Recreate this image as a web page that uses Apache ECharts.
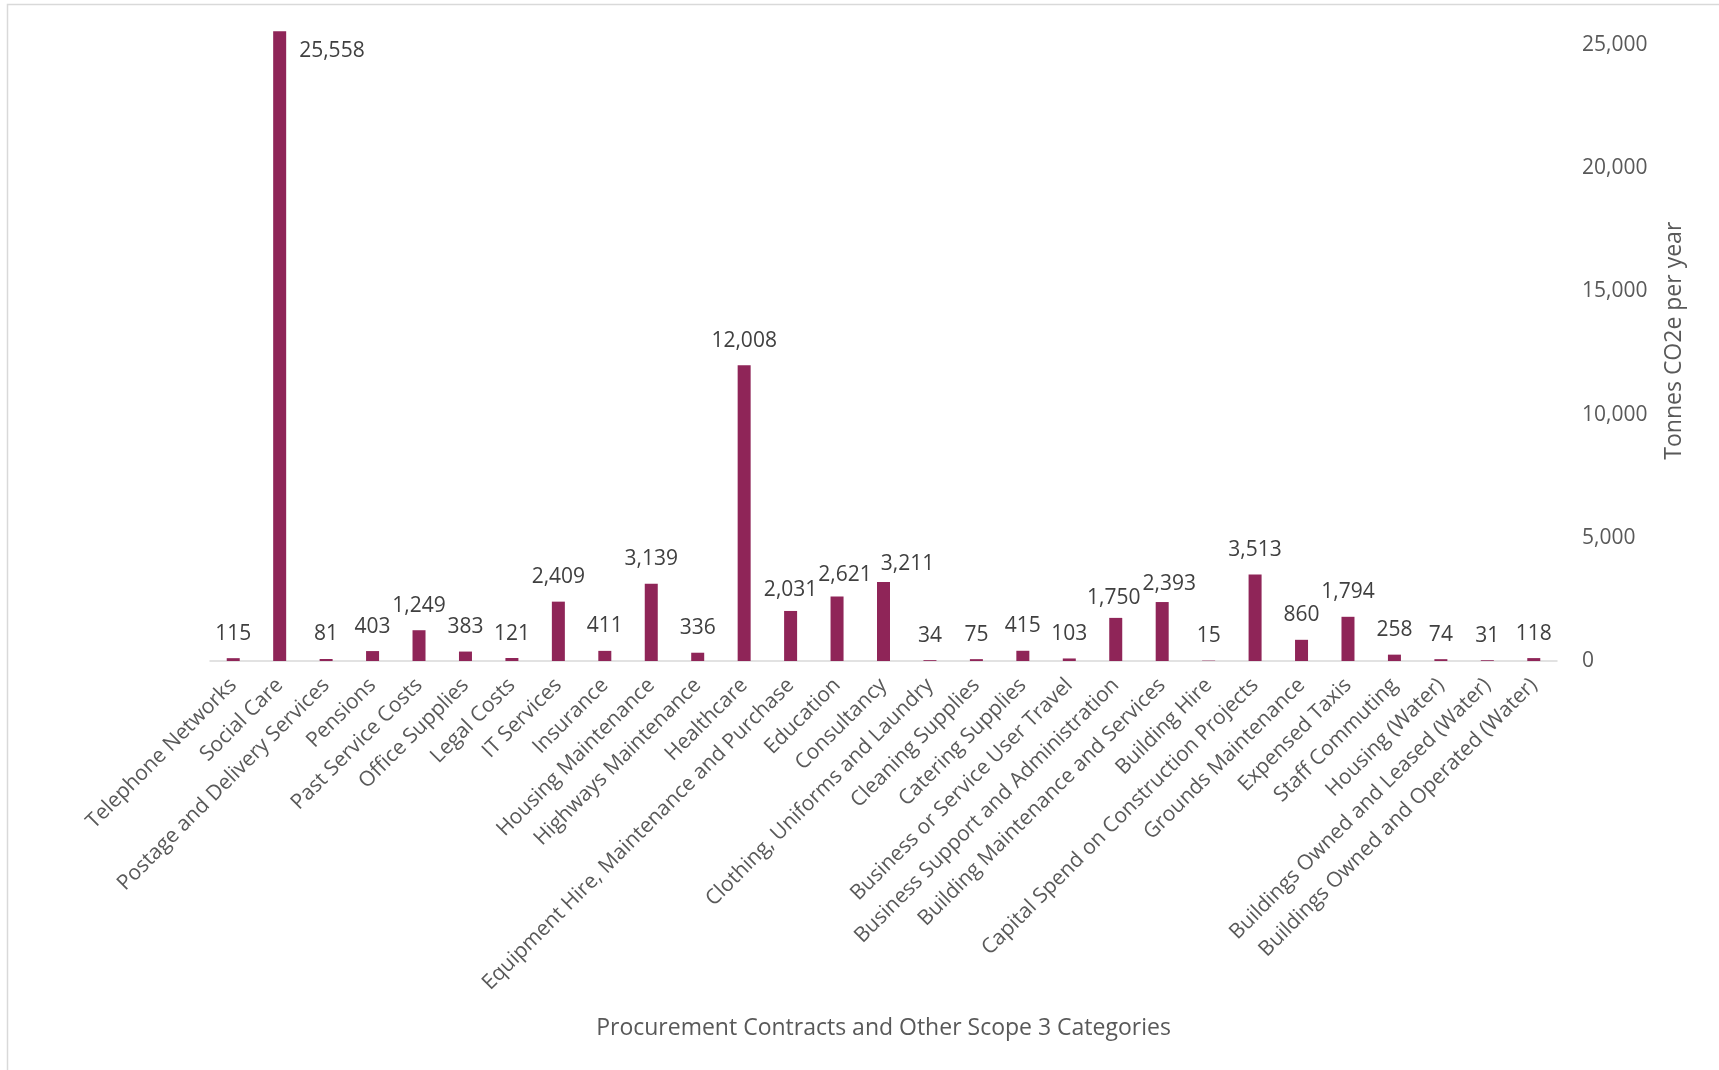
<!DOCTYPE html>
<html>
<head>
<meta charset="utf-8">
<title>Scope 3 emissions by category</title>
<script src="https://cdn.jsdelivr.net/npm/echarts@6/dist/echarts.min.js"></script>
<style>
  html, body { margin: 0; padding: 0; background: #ffffff; }
  #chart { width: 1719px; height: 1070px; }
</style>
</head>
<body>
<div id="chart"></div>
<script>
// Procurement contracts and other Scope 3 categories
const categories = [
  'Telephone Networks',
  'Social Care',
  'Postage and Delivery Services',
  'Pensions',
  'Past Service Costs',
  'Office Supplies',
  'Legal Costs',
  'IT Services',
  'Insurance',
  'Housing Maintenance',
  'Highways Maintenance',
  'Healthcare',
  'Equipment Hire, Maintenance and Purchase',
  'Education',
  'Consultancy',
  'Clothing, Uniforms and Laundry',
  'Cleaning Supplies',
  'Catering Supplies',
  'Business or Service User Travel',
  'Business Support and Administration',
  'Building Maintenance and Services',
  'Building Hire',
  'Capital Spend on Construction Projects',
  'Grounds Maintenance',
  'Expensed Taxis',
  'Staff Commuting',
  'Housing (Water)',
  'Buildings Owned and Leased (Water)',
  'Buildings Owned and Operated (Water)'
];

// Tonnes CO2e per year
const emissions = [
  115, 25558, 81, 403, 1249, 383, 121, 2409, 411, 3139,
  336, 12008, 2031, 2621, 3211, 34, 75, 415, 103, 1750,
  2393, 15, 3513, 860, 1794, 258, 74, 31, 118
];

// Value axis ticks
const yTicks = [0, 5000, 10000, 15000, 20000, 25000];

const axisTitleX = 'Procurement Contracts and Other Scope 3 Categories';
const axisTitleY = 'Tonnes CO2e per year';

// Label nudges where neighbouring value labels would collide
const labelNudge = {
  'Equipment Hire, Maintenance and Purchase': [0, 4],
  'Education': [8, 3],
  'Consultancy': [24, 7],
  'Business Support and Administration': [-2, 5],
  'Building Maintenance and Services': [7, 6]
};

const FONT = '"Open Sans", "Noto Sans", sans-serif';
const BAR = '#8f2558';
const fmt = v => Number(v).toLocaleString('en-US');

const seriesData = emissions.map((v, i) => {
  const name = categories[i];
  const item = { value: v };
  if (v === Math.max.apply(null, emissions)) {
    // tallest bar: value sits beside the bar top
    item.label = { position: ['100%', 0], offset: [13, 9] };
  } else if (labelNudge[name]) {
    item.label = { offset: labelNudge[name] };
  }
  return item;
});

const chart = echarts.init(document.getElementById('chart'), null, { renderer: 'canvas' });

chart.setOption({
  backgroundColor: '#ffffff',
  animation: false,
  textStyle: { fontFamily: FONT },
  graphic: [{
    type: 'rect',
    shape: { x: 7.5, y: 4.5, width: 1800, height: 1200 },
    style: { fill: 'none', stroke: '#d9d9d9', lineWidth: 1.5 },
    silent: true,
    z: -10
  }],
  grid: {
    left: 210,
    right: 162,
    top: 20.4,
    bottom: 409,
    containLabel: false
  },
  xAxis: {
    type: 'category',
    data: categories,
    name: axisTitleX,
    nameLocation: 'middle',
    nameGap: 356,
    nameTextStyle: { fontFamily: FONT, fontSize: 23, color: '#595959' },
    axisLine: { show: true, lineStyle: { color: '#d9d9d9', width: 1.5 } },
    axisTick: { show: false },
    axisLabel: {
      interval: 0,
      rotate: 45,
      margin: 21,
      fontFamily: FONT,
      fontSize: 21,
      color: '#595959'
    },
    splitLine: { show: false }
  },
  yAxis: {
    type: 'value',
    position: 'right',
    min: yTicks[0],
    max: 26000,
    interval: yTicks[1] - yTicks[0],
    name: axisTitleY,
    nameLocation: 'middle',
    nameRotate: 90,
    nameGap: 106,
    nameTextStyle: { fontFamily: FONT, fontSize: 23, color: '#595959' },
    axisLine: { show: false },
    axisTick: { show: false },
    splitLine: { show: false },
    axisLabel: {
      showMaxLabel: false,
      margin: 25,
      fontFamily: FONT,
      fontSize: 21,
      color: '#595959',
      formatter: v => (yTicks.indexOf(v) >= 0 ? fmt(v) : '')
    }
  },
  series: [{
    type: 'bar',
    data: seriesData,
    barWidth: 13,
    itemStyle: { color: BAR },
    label: {
      show: true,
      position: 'top',
      distance: 14,
      fontFamily: FONT,
      fontSize: 21,
      color: '#404040',
      formatter: p => fmt(p.value)
    }
  }]
});
</script>
</body>
</html>
